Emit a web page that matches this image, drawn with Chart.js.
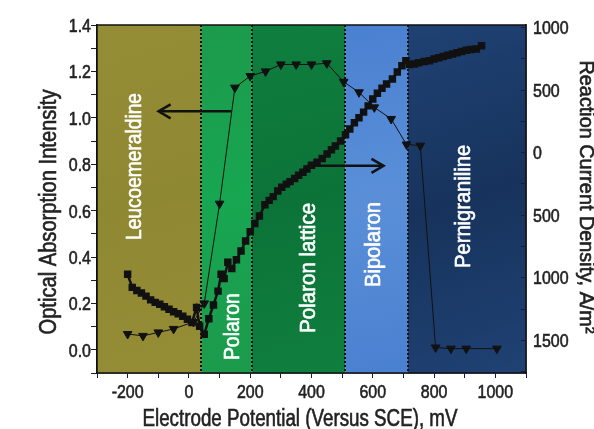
<!DOCTYPE html>
<html>
<head>
<meta charset="utf-8">
<script src="https://cdn.jsdelivr.net/npm/chart.js@4"></script>
<style>
	body { margin: 0; background: #fff; }
	#wrap { width: 594px; height: 429px; }
</style>
</head>
<body>
<div id="wrap"><canvas id="chart" width="594" height="429"></canvas></div>
<script>
// optical absorption (triangles, left axis)
const absorbMv = [-200, -150, -100, -50, 15, 50, 100, 150, 200, 250, 300, 350, 400, 450, 505, 555, 605, 660, 710, 755, 805, 855, 905, 1005]
const absorbance = [0.068, 0.06, 0.075, 0.09, 0.12, 0.2, 0.63, 1.13, 1.18, 1.2, 1.23, 1.23, 1.23, 1.235, 1.155, 1.11, 1.045, 0.995, 0.885, 0.88, 0.01, 0.005, 0.005, 0.005]

// reaction current density (squares, right axis)
const currentMv = [-200, -185, -170, -155, -140, -125, -110, -95, -80, -65, -50, -35, -20, -5, 10, 25, 35, 50,
	65, 80, 95, 105, 115, 127, 140, 155, 170, 185, 200, 215, 230, 248, 262, 275, 290, 303, 318, 330, 345, 358,
	372, 385, 400, 418, 435, 451, 465, 478, 495, 511, 525, 540, 555, 570, 585, 600, 615, 630, 645, 664, 680,
	695, 708, 720, 736, 750, 768, 785, 800, 815, 830, 845, 860, 875, 890, 905, 920, 938, 955]
const currentDensity = [-975, -1080, -1105, -1125, -1150, -1180, -1200, -1215, -1235, -1255, -1275, -1290, -1310, -1335, -1360, -1240, -1390, -1455,
	-1330, -1220, -1110, -975, -1010, -880, -930, -860, -790, -710, -635, -570, -510, -420, -385, -355, -310, -280, -255, -235, -210, -185,
	-160, -135, -105, -80, -50, -15, 20, 50, 90, 140, 185, 235, 275, 320, 370, 425, 470, 510, 545, 585, 640,
	690, 730, 700, 705, 715, 725, 730, 745, 755, 765, 775, 785, 795, 805, 815, 820, 825, 850]

// regions
const bandNames = ['Leucoemeraldine', 'Polaron', 'Polaron lattice', 'Bipolaron', 'Pernigraniline']
const bandStart = [-300, 40, 205, 510, 715]
const bandEnd = [40, 205, 510, 715, 1100]
const bandLabelMv = [-182, 137, 385, 597, 891]
const bandLabelY = [0.79, 0.1, 0.353, 0.454, 0.618]

// arrows [x0, y0, x1, y1] on the bottom/left scales
const leftArrow = [138, 1.028, -99, 1.028]
const rightArrow = [385, 0.793, 635, 0.793]

const FONT = '"Liberation Sans", Arial, sans-serif'
const TXT = '#222'
const bandColors = [
	['#958d36', '#8f8832'],
	['#1c9a4c', '#17a651'],
	['#0f7f3e', '#0c7338'],
	['#4a80d0', '#5a8fd8'],
	['#1f4274', '#17335c']
]
const bandLabelLen = [147, 67, 130, 85, 123]

// draws text squeezed horizontally, either by a factor or to a length
function narrowText(ctx, text, x, y, rot, size, squeeze, len, align) {
	ctx.save()
	ctx.font = size + 'px ' + FONT
	ctx.textAlign = align || 'center'
	ctx.textBaseline = 'alphabetic'
	const k = len ? len / ctx.measureText(text).width : squeeze
	ctx.translate(x, y)
	ctx.rotate(rot)
	ctx.scale(k, 1)
	ctx.strokeStyle = ctx.fillStyle
	ctx.lineWidth = 0.6
	ctx.fillText(text, 0, 0)
	ctx.strokeText(text, 0, 0)
	ctx.restore()
}

const bandsPlugin = {
	id: 'bands',
	beforeDatasetsDraw(chart) {
		const {ctx, chartArea: a, scales: {x, y}} = chart
		ctx.save()
		bandNames.forEach((name, i) => {
			const x0 = x.getPixelForValue(bandStart[i])
			const x1 = x.getPixelForValue(bandEnd[i])
			const g = ctx.createLinearGradient(x0, a.top, x1, a.bottom)
			g.addColorStop(0, bandColors[i][0])
			g.addColorStop(0.5, bandColors[i][1])
			g.addColorStop(1, bandColors[i][0])
			ctx.fillStyle = g
			ctx.fillRect(x0, a.top, x1 - x0, a.bottom - a.top)
		})
		// dotted boundaries
		ctx.strokeStyle = '#111'
		ctx.lineWidth = 2
		ctx.setLineDash([2, 2])
		bandStart.slice(1).forEach(v => {
			const px = Math.round(x.getPixelForValue(v))
			ctx.beginPath()
			ctx.moveTo(px, a.top)
			ctx.lineTo(px, a.bottom)
			ctx.stroke()
		})
		ctx.setLineDash([])
		// region labels
		ctx.fillStyle = '#fff'
		bandNames.forEach((name, i) => {
			const px = x.getPixelForValue(bandLabelMv[i]) + 8
			const py = y.getPixelForValue(bandLabelY[i])
			narrowText(ctx, name, px, py, -Math.PI / 2, 22, 1, bandLabelLen[i])
		})
		ctx.restore()
	},
	afterDatasetsDraw(chart) {
		const {ctx, chartArea: a, scales: {x, y, y2}} = chart
		ctx.save()
		;[leftArrow, rightArrow].forEach(ar => {
			const x0 = x.getPixelForValue(ar[0]), y0 = y.getPixelForValue(ar[1])
			const x1 = x.getPixelForValue(ar[2]), y1 = y.getPixelForValue(ar[3])
			const dir = Math.sign(x1 - x0)
			ctx.strokeStyle = '#111'
			ctx.lineWidth = 2.5
			ctx.beginPath()
			ctx.moveTo(x0, y0)
			ctx.lineTo(x1 - dir * 2, y1)
			ctx.stroke()
			ctx.beginPath()
			ctx.moveTo(x1 - dir * 12, y1 - 7)
			ctx.lineTo(x1, y1)
			ctx.lineTo(x1 - dir * 12, y1 + 7)
			ctx.stroke()
		})
		// frame
		ctx.strokeStyle = '#111'
		ctx.lineWidth = 1.5
		ctx.strokeRect(a.left, a.top, a.right - a.left, a.bottom - a.top)

		// right axis ticks point inward
		ctx.strokeStyle = '#1a1a40'
		ctx.lineWidth = 1
		y2.ticks.forEach(t => {
			const py = Math.round(y2.getPixelForValue(t.value)) + 0.5
			ctx.beginPath()
			ctx.moveTo(a.right - 5, py)
			ctx.lineTo(a.right, py)
			ctx.stroke()
		})

		// tick labels
		ctx.fillStyle = TXT
		x.ticks.forEach(t => {
			if (t.value % 200 !== 0) return
			narrowText(ctx, String(t.value), x.getPixelForValue(t.value), 398, 0, 19, 0.84)
		})
		y.ticks.forEach(t => {
			const k = Math.round(t.value * 10)
			if (k < 0 || k % 2) return
			narrowText(ctx, (k / 10).toFixed(1), 91, y.getPixelForValue(t.value) + 7, 0, 19, 0.84, 0, 'right')
		})
		y2.ticks.forEach(t => {
			if (t.value % 500 !== 0) return
			narrowText(ctx, String(Math.abs(t.value)), 533, y2.getPixelForValue(t.value) + 7, 0, 19, 0.84, 0, 'left')
		})

		// axis titles
		narrowText(ctx, 'Electrode Potential (Versus SCE), mV', 300, 426, 0, 23, 1, 315)
		narrowText(ctx, 'Optical Absorption Intensity', 56, 212, -Math.PI / 2, 23, 1, 245)
		narrowText(ctx, 'Reaction Current Density, A/m²', 580, 197, Math.PI / 2, 20, 1, 273)
		ctx.restore()
	}
}

const ctx = document.getElementById('chart')
new Chart(ctx, {
	type: 'line',
	data: {
		datasets: [{
			label: 'Reaction current density',
			data: currentMv.map((v, i) => ({x: v, y: currentDensity[i]})),
			yAxisID: 'y2',
			borderColor: '#111',
			borderWidth: 2.5,
			backgroundColor: '#111',
			pointStyle: 'rect',
			pointRadius: 3.5,
			tension: 0
		}, {
			label: 'Optical absorption',
			data: absorbMv.map((v, i) => ({x: v, y: absorbance[i]})),
			yAxisID: 'y',
			borderColor: '#111',
			borderWidth: 1,
			backgroundColor: '#111',
			pointStyle: 'triangle',
			pointRotation: 180,
			pointRadius: 5,
			tension: 0
		}]
	},
	options: {
		responsive: false,
		animation: false,
		layout: { padding: { top: 25, left: 0, right: 0, bottom: 0 } },
		plugins: { legend: { display: false }, tooltip: { enabled: false } },
		scales: {
			x: {
				type: 'linear',
				min: -300,
				max: 1100,
				afterFit(s) { s.height = 56 },
				afterBuildTicks(s) {
					const t = []
					for (let v = -300; v <= 1100; v += 100) t.push({value: v})
					s.ticks = t
				},
				ticks: { display: false, autoSkip: false },
				grid: { drawOnChartArea: false, color: '#1a1a40', tickLength: 5 },
				border: { color: '#111', width: 1.5 }
			},
			y: {
				position: 'left',
				min: -0.1,
				max: 1.4,
				afterFit(s) { s.width = 97 },
				afterBuildTicks(s) {
					const t = []
					for (let k = -1; k <= 14; k++) t.push({value: k / 10})
					s.ticks = t
				},
				ticks: { display: false, autoSkip: false },
				grid: { drawOnChartArea: false, color: '#1a1a40', tickLength: 6 },
				border: { color: '#111', width: 1.5 }
			},
			y2: {
				position: 'right',
				min: -1764,
				max: 1016,
				afterFit(s) { s.width = 68 },
				afterBuildTicks(s) {
					const t = []
					for (let v = -1750; v <= 1000; v += 250) t.push({value: v})
					s.ticks = t
				},
				ticks: { display: false, autoSkip: false },
				grid: { drawOnChartArea: false, drawTicks: false },
				border: { color: '#111', width: 1.5 }
			}
		}
	},
	plugins: [bandsPlugin]
})
</script>
</body>
</html>
